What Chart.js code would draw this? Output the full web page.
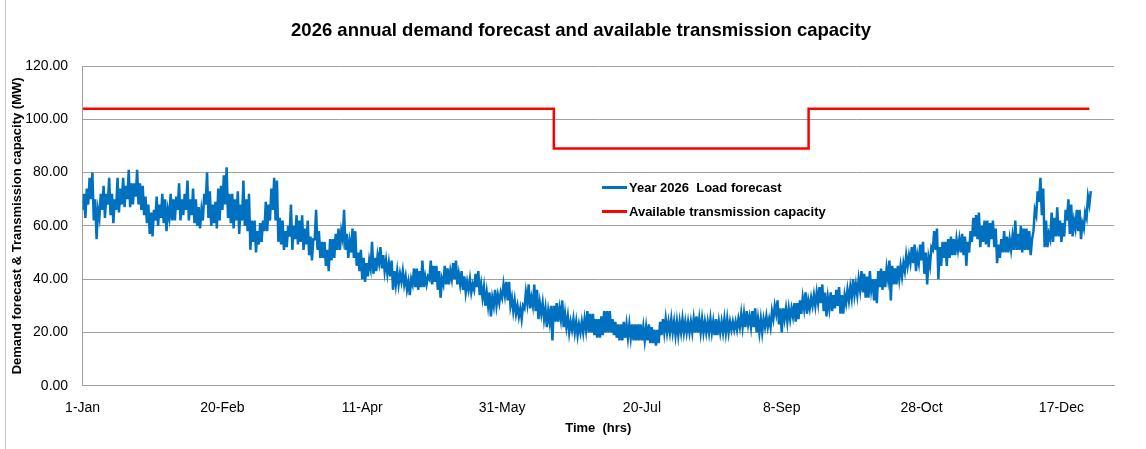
<!DOCTYPE html>
<html lang="en">
<head>
  <meta charset="UTF-8" />
  <title>2026 annual demand forecast and available transmission capacity</title>
  <script src="https://cdn.jsdelivr.net/npm/chart.js"></script>
  <style>
    body { margin: 0; background: #fff; font-family: 'Liberation Sans', Arial, sans-serif; }
    #wrap { position: relative; width: 1146px; height: 449px; }
    #frame { position: absolute; left: 5px; top: 0; width: 1px; height: 449px; background: #c8c8c8; }
    #legend { position: absolute; left: 602px; top: 175px; font-size: 13px; font-weight: bold; color: #000; }
    .item { display: flex; align-items: center; height: 24.4px; white-space: pre; }
    .swatch { width: 25px; height: 3px; margin-right: 2px; }
  </style>
</head>
<body>
  <div id="wrap">
    <canvas id="chart"></canvas>
    <div id="frame"></div>
    <div id="legend">
      <div class="item"><span class="swatch" style="background:#0070C0"></span>Year 2026  Load forecast</div>
      <div class="item"><span class="swatch" style="background:#FF0000"></span>Available transmission capacity</div>
    </div>
  </div>

  <script>
    const FONT = "'Liberation Sans', Arial, sans-serif";

    // x axis in days from 1-Jan
    const tickDays = [0, 50, 100, 150, 200, 250, 300, 350];
    const tickLabels = ['1-Jan', '20-Feb', '11-Apr', '31-May', '20-Jul', '8-Sep', '28-Oct', '17-Dec'];

    // load forecast (MW): daily low (night) and daily high (day), one pair per day from 1-Jan
    const loadLow = [
      66,63,68,70,62,55,63,66,63,68,  64,61,66,65,68,67,70,67,68,71,
      68,66,64,61,57,56,62,60,63,61,  58,63,62,62,66,62,64,66,62,64,
      61,60,59,62,68,63,60,61,59,62,  66,68,63,61,59,62,57,62,60,58,
      51,54,50,53,54,58,58,62,66,62,  54,53,51,52,56,51,55,53,54,51,
      53,49,47,55,51,48,48,45,43,47,  48,51,51,55,51,48,50,48,45,43,
      40,39,41,44,42,43,46,44,43,42,  41,36,38,38,39,38,36,34,38,37,
      36,37,37,38,40,38,39,36,33,38,  38,38,40,40,38,38,36,35,36,35,
      36,37,34,33,30,30,26,30,30,31,  33,34,32,30,28,27,26,25,29,31,
      29,30,28,25,27,25,22,24,17,24,  24,25,22,22,20,21,20,19,20,20,
      21,20,20,19,18,18,19,20,20,20,  19,18,17,17,18,18,18,17,17,17,
      17,17,17,16,16,15,16,19,20,20,  20,20,19,19,20,20,20,20,20,20,
      20,20,20,20,20,20,19,19,20,20,  20,20,21,21,21,22,22,22,23,22,
      22,20,20,20,22,22,22,25,27,23,  20,25,24,25,26,24,25,27,29,27,
      29,30,30,31,31,28,26,29,28,29,  30,27,27,31,32,33,34,34,36,35,
      33,33,36,32,31,37,36,37,40,32,  38,38,40,41,43,45,46,46,43,46,
      47,42,38,45,51,51,40,45,48,45,  48,49,49,51,50,49,45,50,54,56,
      55,52,54,53,52,55,52,46,48,50,  50,50,51,51,51,51,50,51,51,49,
      58,64,69,64,52,52,55,54,56,56,  54,56,62,57,56,59,58,55,59,63,
      68
    ];
    const loadHigh = [
      72,74,78,80,70,66,72,75,72,78,  72,70,78,74,78,75,81,76,76,81,
      76,75,71,68,65,66,71,68,72,70,  66,72,70,71,76,70,72,77,70,74,
      70,67,66,72,80,73,68,69,74,75,  79,82,72,72,70,73,68,77,70,72,
      62,62,58,61,62,69,68,74,78,77,  63,62,58,60,68,60,64,62,64,59,
      62,56,55,66,58,54,54,51,55,55,  57,59,58,66,57,54,59,58,50,51,
      48,46,47,54,48,49,52,49,47,46,  47,43,43,42,43,41,39,40,44,44,
      43,47,41,41,47,45,45,43,40,45,  44,43,46,47,42,43,41,39,40,38,
      42,43,38,37,35,35,33,36,34,35,  38,39,39,33,32,30,29,30,35,38,
      33,38,36,31,31,29,28,30,30,31,  29,32,27,26,24,25,24,23,24,25,
      28,27,27,25,25,26,28,28,28,25,  24,23,23,24,23,23,23,23,23,23,
      22,22,23,22,21,21,24,25,25,24,  25,24,24,24,25,24,24,24,25,26,
      25,25,24,24,25,24,25,24,24,25,  25,24,24,24,25,27,27,28,26,28,
      29,25,25,25,26,25,28,30,32,29,  29,29,29,29,31,31,32,33,35,32,
      33,34,35,37,38,35,33,35,34,36,  37,34,34,36,37,40,38,40,43,42,
      41,43,40,40,43,44,43,44,47,45,  44,45,45,46,49,49,52,53,49,53,
      54,50,48,52,58,59,52,54,54,55,  56,55,55,55,57,56,54,58,63,64,
      65,60,62,62,61,62,59,53,55,58,  56,55,56,62,57,60,59,59,58,55,
      66,73,78,74,62,57,65,63,67,62,  61,66,70,68,62,66,66,61,65,71,
      73
    ];

    // available transmission capacity (MW), step changes
    const capDays = [0, 168.5, 168.5, 259.6, 259.6, 360];
    const capValues = [104, 104, 89, 89, 104, 104];

    const loadPoints = [];
    loadLow.forEach((v, d) => {
      loadPoints.push({ x: d, y: v });
      loadPoints.push({ x: d + 0.5, y: loadHigh[d] });
    });

    const gridColor = '#a0a0a0';

    new Chart(document.getElementById('chart'), {
      type: 'line',
      data: {
        datasets: [
          {
            label: 'Year 2026  Load forecast',
            data: loadPoints,
            borderColor: '#0070C0',
            borderWidth: 2.5,
            pointRadius: 0,
            tension: 0
          },
          {
            label: 'Available transmission capacity',
            data: capDays.map((d, i) => ({ x: d, y: capValues[i] })),
            borderColor: '#FF0000',
            borderWidth: 2.5,
            pointRadius: 0,
            tension: 0
          }
        ]
      },
      options: {
        responsive: true,
        maintainAspectRatio: false,
        animation: false,
        layout: { padding: { left: 16, right: 0, top: 0, bottom: 0 } },
        plugins: {
          legend: { display: false },
          tooltip: { enabled: false },
          title: {
            display: true,
            text: '2026 annual demand forecast and available transmission capacity',
            color: '#000',
            font: { family: FONT, size: 18.5, weight: 'bold' },
            padding: { top: 20, bottom: 23.8 }
          }
        },
        scales: {
          x: {
            type: 'linear',
            min: 0,
            max: 368.8,
            grid: { display: false },
            border: { display: true, color: gridColor },
            afterBuildTicks: scale => { scale.ticks = tickDays.map(v => ({ value: v })); },
            afterFit: scale => { scale.height = 63.3; },
            ticks: {
              autoSkip: false,
              maxRotation: 0,
              padding: 6,
              color: '#000',
              font: { family: FONT, size: 14 },
              callback: v => tickLabels[tickDays.indexOf(v)]
            },
            title: {
              display: true,
              text: 'Time  (hrs)',
              color: '#000',
              font: { family: FONT, size: 13, weight: 'bold' },
              padding: { top: 0, bottom: 13.2 }
            }
          },
          y: {
            min: 0,
            max: 120,
            grid: { color: gridColor, drawTicks: false },
            border: { display: true, color: gridColor },
            afterFit: scale => { scale.width = 66.6; },
            ticks: {
              stepSize: 20,
              padding: 14.5,
              color: '#000',
              font: { family: FONT, size: 14 },
              callback: v => v.toFixed(2)
            },
            title: {
              display: true,
              text: 'Demand forecast & Transmission capacity (MW)',
              color: '#000',
              font: { family: FONT, size: 13, weight: 'bold' },
              padding: { top: -6.8, bottom: 0 }
            }
          },
          // empty right-hand margin so the plot stops where the original does
          yRight: {
            position: 'right',
            grid: { display: false },
            border: { display: false },
            ticks: { display: false },
            afterFit: scale => { scale.width = 32; }
          }
        }
      }
    });
  </script>
</body>
</html>
